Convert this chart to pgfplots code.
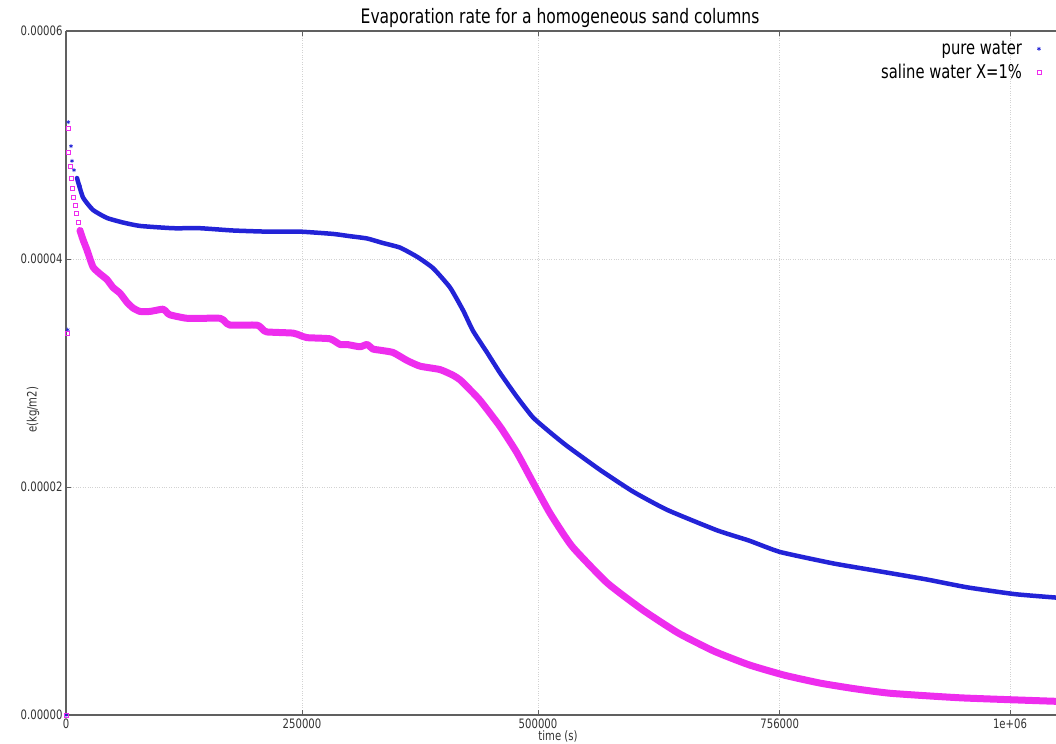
\documentclass[border=0pt]{standalone}
\usepackage{fontspec}
\setmainfont{DejaVu Sans}[FakeStretch=0.78]
\usepackage{pgfplots}
\pgfplotsset{compat=1.18}
\definecolor{cblue}{RGB}{35,35,215}
\definecolor{cmag}{RGB}{238,45,238}
\begin{document}
\begin{tikzpicture}
\useasboundingbox (-66bp,-29bp) rectangle (990bp,715bp);
\begin{axis}[
  at={(0,0)}, anchor=south west,
  width=990bp, height=684bp, scale only axis,
  xmin=0, xmax=1048700, ymin=0, ymax=6e-5,
  axis x line*=box, axis y line*=left,
  xtick={0,250000,500000,756000,1000000},
  xticklabels={0,250000,500000,756000,1e+06},
  ytick={0,2e-5,4e-5,6e-5},
  yticklabels={0.00000,0.00002,0.00004,0.00006},
  scaled y ticks=false, scaled x ticks=false,
  grid=major, grid style={dotted, gray!35, line width=0.9bp},
  axis line style={gray!75!black, line width=1.2bp},
  tick style={gray!75!black, line width=0.8bp},
  major tick length=5bp, tick align=inside,
  ticklabel style={font=\fontsize{13}{15}\selectfont, text=black!80},
  xlabel={time (s)}, ylabel={e(kg/m2)},
  label style={font=\fontsize{13}{15}\selectfont, text=black!80},
  xlabel style={at={(axis description cs:0.497,-0.0307)}, anchor=center},
  ylabel style={at={(axis description cs:-0.0333,0.446)}, anchor=center},
  title={Evaporation rate for a homogeneous sand columns},
  title style={font=\fontsize{20}{22}\selectfont, at={(axis description cs:0.499,1)}, anchor=base, yshift=2bp, inner sep=0pt},
  legend style={draw=none, fill=none, at={(0.985,0.988)}, anchor=north east,
    font=\fontsize{19}{21}\selectfont, row sep=4bp, column sep=13bp, inner sep=0pt},
  legend plot pos=right, legend cell align=right,
]
\addplot[forget plot, cmag, line width=7bp, line join=round, line cap=round, smooth, tension=0.3] coordinates {
(14800,4.25e-5) (18000,4.17e-5) (22200,4.08e-5) (28600,3.93e-5) (36000,3.87e-5) (43400,3.82e-5) (49800,3.75e-5) (57200,3.70e-5) (64600,3.62e-5) (71000,3.57e-5) (78400,3.54e-5) (89000,3.54e-5) (102800,3.56e-5) (107000,3.53e-5) (110200,3.51e-5) (128200,3.48e-5) (163100,3.48e-5) (168400,3.45e-5) (173700,3.42e-5) (202300,3.42e-5) (208700,3.38e-5) (212900,3.36e-5) (240500,3.35e-5) (247900,3.33e-5) (255300,3.31e-5) (279700,3.30e-5) (290300,3.25e-5) (297700,3.25e-5) (311400,3.23e-5) (318900,3.25e-5) (325200,3.21e-5) (332600,3.20e-5) (346400,3.18e-5) (361200,3.11e-5) (375000,3.06e-5) (396200,3.03e-5) (410000,2.98e-5) (417400,2.94e-5) (424800,2.88e-5) (438600,2.76e-5) (459800,2.53e-5) (477700,2.30e-5) (494700,2.04e-5) (512700,1.77e-5) (536000,1.48e-5) (573100,1.16e-5) (611200,0.92e-5) (648300,0.72e-5) (686400,0.56e-5) (723500,0.44e-5) (760600,0.35e-5) (798700,0.28e-5) (835800,0.23e-5) (873900,0.19e-5) (949200,0.15e-5) (1048700,0.12e-5)
};
\addplot[forget plot, cblue, line width=4.5bp, line join=round, line cap=round, smooth, tension=0.3] coordinates {
(11650,4.71e-5) (18000,4.54e-5) (28600,4.43e-5) (43400,4.36e-5) (60400,4.32e-5) (78400,4.29e-5) (113300,4.27e-5) (141900,4.27e-5) (176900,4.25e-5) (212900,4.24e-5) (247900,4.24e-5) (282800,4.22e-5) (300800,4.20e-5) (318900,4.18e-5) (335800,4.14e-5) (353800,4.10e-5) (371800,4.02e-5) (388800,3.92e-5) (406800,3.75e-5) (420600,3.55e-5) (431100,3.37e-5) (446000,3.18e-5) (459800,3.00e-5) (477700,2.79e-5) (494700,2.61e-5) (512700,2.48e-5) (530700,2.36e-5) (565700,2.15e-5) (600600,1.96e-5) (636600,1.80e-5) (689600,1.62e-5) (723500,1.53e-5) (756400,1.43e-5) (812500,1.33e-5) (854900,1.27e-5) (911000,1.19e-5) (954500,1.12e-5) (1005300,1.06e-5) (1048700,1.03e-5)
};
\addplot[only marks, mark=asterisk, mark size=2bp, cblue, mark options={draw=cblue, line width=0.6bp, solid}] coordinates {
(0,0) (1800,3.38e-5) (2400,5.20e-5) (5300,4.99e-5) (6400,4.86e-5) (8500,4.78e-5) (11650,4.71e-5) (14800,4.64e-5)
};
\addlegendentry{pure water}
\addplot[only marks, mark=square, mark size=2bp, cmag, mark options={draw=cmag, fill=none, line width=0.6bp, solid}] coordinates {
(0,0) (1800,3.35e-5) (2100,5.15e-5) (2900,4.94e-5) (4200,4.81e-5) (5300,4.71e-5) (6700,4.62e-5) (7700,4.54e-5) (9500,4.47e-5) (11300,4.40e-5) (12700,4.32e-5) (14800,4.25e-5)
};
\addlegendentry{saline water X=1\%}
\end{axis}
\end{tikzpicture}
\end{document}
